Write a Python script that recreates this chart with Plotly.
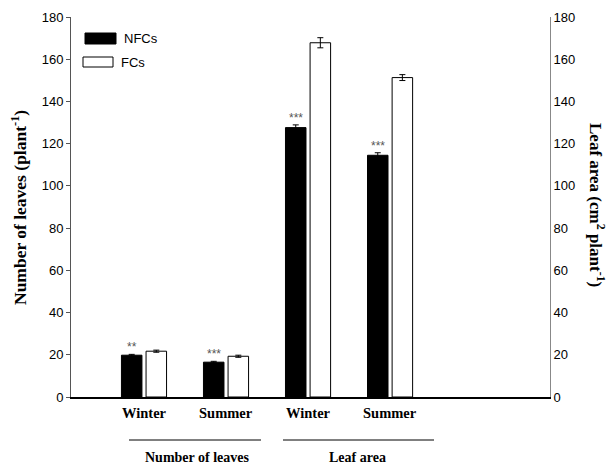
import plotly.graph_objects as go

categories = ["Winter", "Summer", "Winter", "Summer"]
groups = ["Number of leaves", "Leaf area"]
nfc_leaves = [19.8, 16.5]
fc_leaves = [21.7, 19.3]
nfc_leaves_err = [0.4, 0.4]
fc_leaves_err = [0.5, 0.5]
nfc_area = [127.6, 114.5]
fc_area = [167.8, 151.3]
nfc_area_err = [1.3, 1.2]
fc_area_err = [2.4, 1.4]
signif = ["**", "***", "***", "***"]
yticks = [0, 20, 40, 60, 80, 100, 120, 140, 160, 180]

W, H = 609, 466
ML, MR, MT, MB = 71, 59, 17, 69
PH = H - MT - MB
PW = W - ML - MR

def py(px):
    # pixel y (from top of page) -> paper coordinate
    return (H - MB - px) / PH

def px_(x):
    return (x - ML) / PW

pos_leaves = [1, 2]
pos_area = [3, 4]
off = 0.15
bw = 0.25
err_style = dict(type="data", visible=True, color="black", thickness=1, width=3)

fig = go.Figure()
fig.add_trace(go.Bar(x=[p - off for p in pos_leaves], y=nfc_leaves, width=bw,
                     marker=dict(color="black", line=dict(color="black", width=1)),
                     error_y=dict(array=nfc_leaves_err, **err_style), showlegend=False))
fig.add_trace(go.Bar(x=[p + off for p in pos_leaves], y=fc_leaves, width=bw,
                     marker=dict(color="white", line=dict(color="black", width=1)),
                     error_y=dict(array=fc_leaves_err, **err_style), showlegend=False))
fig.add_trace(go.Bar(x=[p - off for p in pos_area], y=nfc_area, width=bw, yaxis="y2",
                     marker=dict(color="black", line=dict(color="black", width=1)),
                     error_y=dict(array=nfc_area_err, **err_style), showlegend=False))
fig.add_trace(go.Bar(x=[p + off for p in pos_area], y=fc_area, width=bw, yaxis="y2",
                     marker=dict(color="white", line=dict(color="black", width=1)),
                     error_y=dict(array=fc_area_err, **err_style), showlegend=False))

serif = "Liberation Serif"
sans = "Liberation Sans"
annotations = []
tops = [v + e for v, e in zip(nfc_leaves + nfc_area, nfc_leaves_err + nfc_area_err)]
for p, t, s in zip(pos_leaves + pos_area, tops, signif):
    annotations.append(dict(x=p - off, y=t, xref="x", yref="y", text=s, showarrow=False,
                            xanchor="center", yanchor="bottom", yshift=-2,
                            font=dict(family=sans, size=12, color="#555")))
for p, c in zip(pos_leaves + pos_area, categories):
    annotations.append(dict(x=p, y=py(413), xref="x", yref="paper", text="<b>" + c + "</b>",
                            showarrow=False, xanchor="center", yanchor="middle",
                            font=dict(family=serif, size=14.5, color="black")))
annotations.append(dict(x=px_(197), y=py(457), xref="paper", yref="paper",
                        text="<b>" + groups[0] + "</b>", showarrow=False,
                        xanchor="center", yanchor="middle",
                        font=dict(family=serif, size=14, color="black")))
annotations.append(dict(x=px_(357), y=py(457), xref="paper", yref="paper",
                        text="<b>" + groups[1] + "</b>", showarrow=False,
                        xanchor="center", yanchor="middle",
                        font=dict(family=serif, size=14, color="black")))
# axis titles
annotations.append(dict(x=px_(19), y=py(208), xref="paper", yref="paper",
                        text="<b>Number of leaves (plant<sup>-1</sup>)</b>",
                        showarrow=False, textangle=-90, xanchor="center", yanchor="middle",
                        font=dict(family=serif, size=17.5, color="black")))
annotations.append(dict(x=px_(597), y=py(205), xref="paper", yref="paper",
                        text="<b>Leaf area (cm<sup>2</sup> plant<sup>-1</sup>)</b>",
                        showarrow=False, textangle=90, xanchor="center", yanchor="middle",
                        font=dict(family=serif, size=17, color="black")))
# legend text
annotations.append(dict(x=px_(122), y=py(39), xref="paper", yref="paper", text="NFCs",
                        showarrow=False, xanchor="left", yanchor="middle",
                        font=dict(family=sans, size=13, color="black")))
annotations.append(dict(x=px_(119), y=py(62), xref="paper", yref="paper", text="FCs",
                        showarrow=False, xanchor="left", yanchor="middle",
                        font=dict(family=sans, size=13, color="black")))

shapes = [
    dict(type="rect", xref="paper", yref="paper", x0=px_(85), x1=px_(116), y0=py(44), y1=py(33),
         fillcolor="black", line=dict(color="black", width=1)),
    dict(type="rect", xref="paper", yref="paper", x0=px_(83), x1=px_(113), y0=py(67), y1=py(57),
         fillcolor="white", line=dict(color="black", width=1)),
    dict(type="line", xref="paper", yref="paper", x0=px_(129), x1=px_(261), y0=py(440), y1=py(440),
         line=dict(color="black", width=1)),
    dict(type="line", xref="paper", yref="paper", x0=px_(283), x1=px_(434), y0=py(440), y1=py(440),
         line=dict(color="black", width=1)),
]

fig.update_layout(
    width=W, height=H,
    margin=dict(l=ML, r=MR, t=MT, b=MB, autoexpand=False),
    paper_bgcolor="white", plot_bgcolor="white",
    barmode="overlay",
    showlegend=False,
    font=dict(family=sans, size=13, color="black"),
    xaxis=dict(range=[0.11, 5.95], showticklabels=False, ticks="", showgrid=False,
               zeroline=False, showline=True, linecolor="black", linewidth=1.5),
    yaxis=dict(range=[0, 180], tickvals=yticks, ticks="outside", ticklen=4, tickcolor="#555",
               showgrid=False, zeroline=False, showline=True, linecolor="#555", linewidth=1,
               tickfont=dict(family=sans, size=13, color="black")),
    yaxis2=dict(range=[0, 180], tickvals=yticks, overlaying="y", side="right", ticks="",
                showgrid=False, zeroline=False, showline=True, linecolor="#888", linewidth=1,
                tickfont=dict(family=sans, size=13, color="black")),
    annotations=annotations,
    shapes=shapes,
)

fig.write_html("out.html", config={"displayModeBar": False},
               post_script="document.body.style.margin='0px';")
